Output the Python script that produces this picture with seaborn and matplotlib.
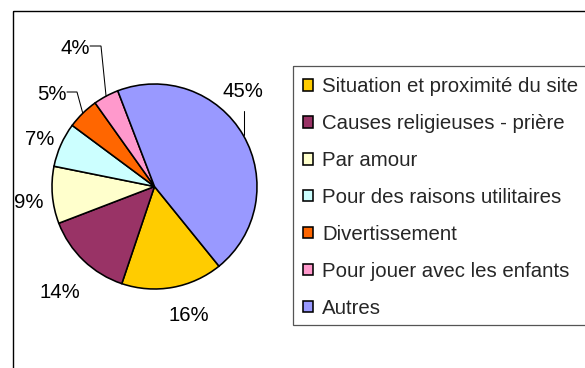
import numpy as np
import matplotlib
matplotlib.use("Agg")
import matplotlib.pyplot as plt
from matplotlib.patches import Rectangle
import seaborn as sns

# Reasons given for visiting the site (share of respondents, %)
categories = [
    "Situation et proximité du site",
    "Causes religieuses - prière",
    "Par amour",
    "Pour des raisons utilitaires",
    "Divertissement",
    "Pour jouer avec les enfants",
    "Autres",
]
shares = [16, 14, 9, 7, 5, 4, 45]
colors = ["#FFCC00", "#993366", "#FFFFCC", "#CCFFFF", "#FF6600", "#FF99CC", "#9999FF"]

# Label layout (pixel coordinates, y downward): text centre and optional elbow for leaders
label_pos = [(189, 314), (60, 291), (29, 201), (40, 138), (52, 93), (75, 47), (243, 90)]
leader_kind = [None, None, None, None, "elbow", "elbow", "vertical"]
leader_elbow = [None, None, None, None, (77, 92), (101, 46), (None, 111)]

sns.set_theme(style="white")
plt.rcParams["font.family"] = ["Liberation Sans", "DejaVu Sans"]
FS = 14.7

W, H = 585, 368
fig = plt.figure(figsize=(W / 100, H / 100), dpi=100)
ax = fig.add_axes([0, 0, 1, 1])

cx, cy, R = 154.5, 186.5, 102.5
start_cw_from_top = 141.0  # first slice begins here, going clockwise

# With y pointing down, counterclockwise in data space reads clockwise on screen
wedges, _ = ax.pie(
    shares,
    colors=sns.color_palette(colors),
    startangle=start_cw_from_top - 90,
    counterclock=True,
    center=(cx, cy),
    radius=R,
    wedgeprops=dict(edgecolor="black", linewidth=1.15),
)
ax.set_xlim(0, W)
ax.set_ylim(H, 0)
ax.set_aspect("auto")
ax.axis("off")

# Chart area border
ax.add_patch(Rectangle((12.5, 10.5), W, H, fill=False, edgecolor="black",
                       linewidth=1.0, clip_on=True))

total = float(sum(shares))
cum = np.cumsum([0] + shares[:-1])
for i, v in enumerate(shares):
    pct = f"{round(100 * v / total):d}%"
    tx, ty = label_pos[i]
    ax.text(tx, ty + 0.358 * FS * 100 / 72, pct, ha="center", va="baseline",
            fontsize=FS, color="black")
    mid = np.deg2rad(start_cw_from_top + (cum[i] + v / 2) / total * 360)
    px, py = cx + R * np.sin(mid), cy - R * np.cos(mid)
    kind = leader_kind[i]
    if kind == "elbow":
        ex, ey = leader_elbow[i]
        text_right = tx + 14
        ax.plot([text_right + 1, ex, px], [ey, ey, py], color="black", lw=0.75,
                solid_joinstyle="miter")
    elif kind == "vertical":
        _, ey = leader_elbow[i]
        ax.plot([px + 1, px + 1], [ey, py], color="black", lw=0.75)

# Legend box
ax.add_patch(Rectangle((292.5, 65.5), W, 324.5 - 65.5, fill=False,
                       edgecolor="#555555", linewidth=0.9, clip_on=True))

leg = fig.legend(
    wedges, categories,
    loc="upper left", bbox_to_anchor=(291.0 / W, 1 - 65.5 / H),
    fontsize=FS, frameon=False, borderaxespad=0, borderpad=0.57,
    handlelength=0.5, handleheight=0.5, handletextpad=0.45,
    labelspacing=0.877,
)

fig.savefig("out.png", dpi=100)
